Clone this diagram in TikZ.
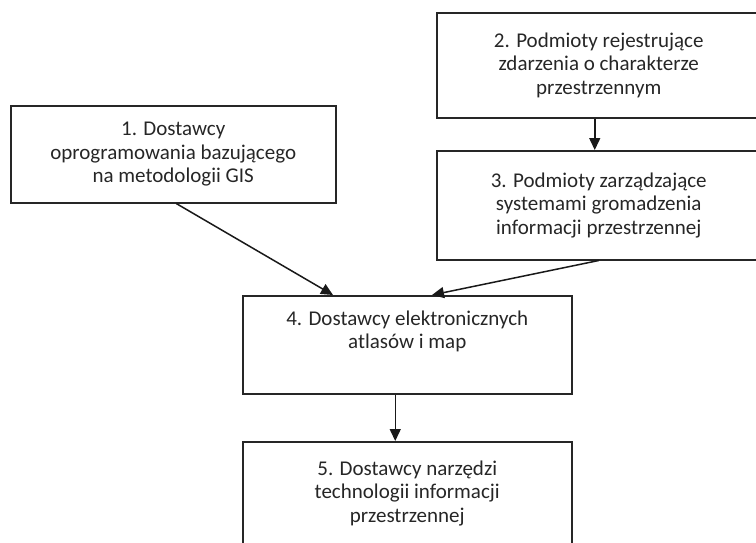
\documentclass[tikz,border=0pt]{standalone}
\usepackage{fontspec}
\setmainfont{Carlito}
\usetikzlibrary{arrows.meta}
\begin{document}
\begin{tikzpicture}[x=1pt,y=-1pt,
  box/.style={draw=black!85, line width=1.5pt, rectangle, align=center, inner sep=0pt,
    font=\fontsize{21}{23.5}\selectfont, text=black!85, anchor=north west},
  conn/.style={draw=black!90, line width=1.5pt, -{Triangle[length=12pt,width=11pt]}}]
\useasboundingbox (0,0) rectangle (756,542);
\clip (0,0) rectangle (756,542);
\node[box, minimum width=325pt, minimum height=97pt] (b1) at (10,105)
  {1. Dostawcy\\oprogramowania bazującego\\na metodologii GIS};
\node[box, minimum width=324pt, minimum height=105pt] (b2) at (436,12)
  {2. Podmioty rejestrujące\\zdarzenia o charakterze\\przestrzennym};
\node[box, minimum width=324pt, minimum height=109pt] (b3) at (436,150)
  {3. Podmioty zarządzające\\systemami gromadzenia\\informacji przestrzennej};
\node[box, minimum width=329pt, minimum height=98pt] (b4) at (242,295)
  {4. Dostawcy elektronicznych\\atlasów i map\\\strut};
\node[box, minimum width=329pt, minimum height=103pt] (b5) at (242,441)
  {5. Dostawcy narzędzi\\technologii informacji\\przestrzennej};
\draw[conn] ([xshift=3pt]b1.south) -- ([xshift=91pt]b4.north west);
\draw[conn] ([xshift=-4pt]b2.south) -- ([xshift=-4pt]b3.north);
\draw[conn] (b3.south) -- ([xshift=190pt]b4.north west);
\draw[conn] ([xshift=-12pt]b4.south) -- ([xshift=-12pt]b5.north);
\end{tikzpicture}
\end{document}
